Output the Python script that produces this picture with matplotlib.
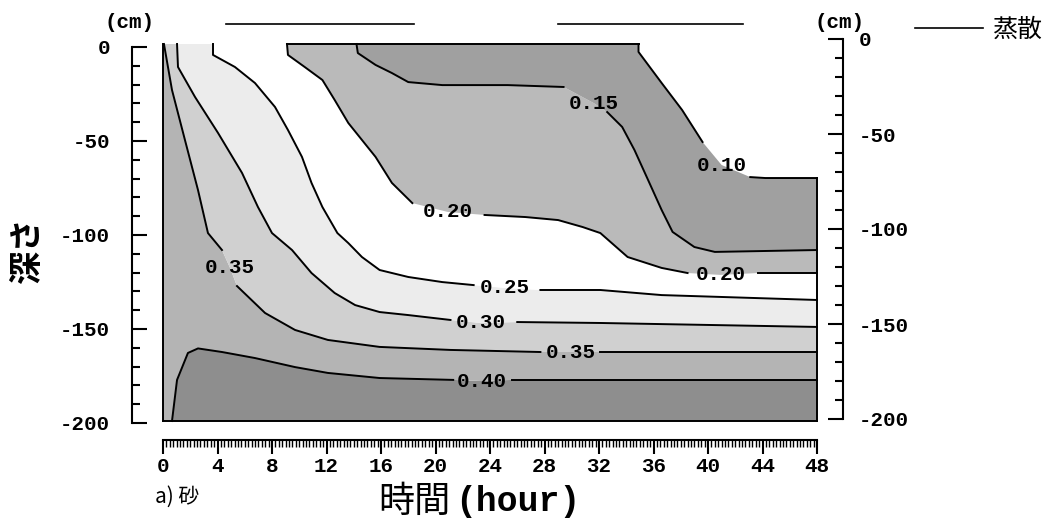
import matplotlib
matplotlib.use('Agg')
import matplotlib.pyplot as plt
from matplotlib.ticker import MultipleLocator
from matplotlib.font_manager import FontProperties

plt.rcParams['axes.unicode_minus'] = False

MONO = 'Liberation Mono'
CJK = 'Noto Sans CJK JP'

# contour lines: time (hour) / depth (cm)
# the point at each label index is where the label sits (line is broken there)
t_040 = [0.66, 1.03, 1.83, 2.57, 4.33, 6.75, 9.69, 12.1, 15.9, 21.3, 23.4, 25.6, 32.1, 48.0]
d_040 = [-200.0, -178.2, -163.9, -161.5, -163.4, -166.6, -171.4, -174.5, -177.2, -178.2, -178.8, -178.2, -178.2, -178.2]
lab_040 = [10]

t_035 = [0.07, 0.66, 1.61, 2.57, 3.30, 4.33, 4.92, 5.43, 7.49, 9.69, 12.1, 15.9, 21.1, 27.7, 29.9, 32.1, 48.0]
d_035 = [0.0, -24.4, -50.9, -77.5, -100.3, -109.3, -118.8, -128.4, -142.7, -151.7, -157.0, -160.7, -162.3, -163.4, -163.4, -163.4, -163.4]
lab_035 = [6, 14]

t_030 = [1.03, 1.10, 2.35, 4.04, 5.80, 6.97, 8.00, 9.47, 10.9, 12.6, 14.1, 15.9, 18.0, 21.1, 23.3, 26.0, 32.1, 48.0]
d_030 = [0.0, -12.2, -28.1, -47.2, -68.4, -86.5, -100.3, -109.3, -121.5, -132.1, -138.5, -142.2, -143.8, -146.4, -148.0, -147.5, -148.0, -150.1]
lab_030 = [14]

t_025 = [3.67, 3.67, 5.28, 6.75, 8.22, 9.17, 10.2, 10.9, 11.7, 12.8, 13.6, 14.6, 15.9, 18.0, 20.5, 22.8, 25.1, 27.7, 32.1, 36.6, 48.0]
d_025 = [0.0, -5.8, -12.2, -20.7, -33.4, -45.6, -59.9, -73.7, -86.5, -100.3, -105.6, -113.0, -119.9, -123.6, -126.3, -127.9, -129.4, -130.5, -130.5, -133.2, -135.8]
lab_025 = [16]

t_020 = [9.10, 9.17, 10.4, 11.7, 12.6, 13.6, 14.6, 15.6, 16.8, 18.3, 20.9, 23.6, 26.6, 29.0, 30.8, 32.1, 34.1, 36.6, 38.5, 40.9, 43.7, 48.0]
d_020 = [0.0, -5.8, -12.2, -19.1, -29.7, -41.9, -50.9, -59.9, -73.7, -84.4, -89.1, -90.7, -91.8, -93.4, -97.1, -100.3, -113.0, -118.8, -121.5, -122.5, -121.5, -121.5]
lab_020 = [10, 19]

t_015 = [14.2, 14.3, 15.6, 16.8, 18.0, 20.5, 25.3, 29.4, 31.6, 32.6, 33.7, 34.6, 35.6, 36.6, 37.4, 39.0, 40.5, 48.0]
d_015 = [0.0, -4.8, -11.1, -15.4, -20.2, -21.8, -21.8, -22.8, -31.3, -36.1, -44.0, -56.2, -72.1, -88.1, -99.7, -107.7, -110.3, -109.3]
lab_015 = [8]

t_010 = [34.9, 34.9, 36.6, 38.1, 39.6, 41.0, 43.1, 44.2, 48.0]
d_010 = [0.0, -4.2, -20.7, -35.0, -52.0, -64.2, -70.6, -71.1, -71.1]
lab_010 = [5]

levels = [0.40, 0.35, 0.30, 0.25, 0.20, 0.15, 0.10]
line_t = [t_040, t_035, t_030, t_025, t_020, t_015, t_010]
line_d = [d_040, d_035, d_030, d_025, d_020, d_015, d_010]
line_lab = [lab_040, lab_035, lab_030, lab_025, lab_020, lab_015, lab_010]

# fill shades (halftones of the scan) for >0.40, 0.35-0.40, ..., 0.10-0.15
shades = ['#8e8e8e', '#b4b4b4', '#d0d0d0', '#ececec', '#ffffff', '#bababa', '#a0a0a0']

# evaporation periods (top bars)
evap_start = [4.6, 29.0]
evap_end = [18.4, 42.6]

t_max = 48
d_min = -200

fig = plt.figure(figsize=(10.61, 5.25), dpi=100)
ax = fig.add_axes([163 / 1061, 1 - 421 / 525, 654 / 1061, 377 / 525])
ax.set_xlim(0, t_max)
ax.set_ylim(d_min, 0)

# filled bands
ax.fill(t_040 + [t_max], d_040 + [d_min], color=shades[0], lw=0)
ax.fill([0] + t_035 + t_040[::-1] + [0], [0] + d_035 + d_040[::-1] + [d_min], color=shades[1], lw=0)
for k in range(1, 6):
    ax.fill(line_t[k] + line_t[k + 1][::-1], line_d[k] + line_d[k + 1][::-1],
            color=shades[k + 1], lw=0)

# contour lines, broken at their labels
for lev, ts, ds, labs in zip(levels, line_t, line_d, line_lab):
    start = 0
    for i in labs + [len(ts)]:
        ax.plot(ts[start:i], ds[start:i], color='black', lw=1.4, clip_on=False)
        start = i + 1
    for i in labs:
        ax.text(ts[i], ds[i], f'{lev:.2f}', ha='center', va='center',
                fontsize=15, fontweight='bold', family=MONO)

# outline of the shaded area
ax.plot([0, 0], [0, d_min], color='black', lw=1.4, clip_on=False)
ax.plot([0, t_max], [d_min, d_min], color='black', lw=1.4, clip_on=False)
ax.plot([t_max, t_max], [d_010[-1], d_min], color='black', lw=1.4, clip_on=False)
ax.plot([t_020[0], t_010[0]], [0, 0], color='black', lw=1.4, clip_on=False)

# evaporation bars above the panel
evap_handle = None
for s, e in zip(evap_start, evap_end):
    evap_handle, = ax.plot([s, e], [10.6, 10.6], color='black', lw=1.2, clip_on=False)

for side in ['left', 'right', 'top']:
    ax.spines[side].set_visible(False)
ax.spines['bottom'].set_position(('outward', 13.7))
ax.spines['bottom'].set_linewidth(1.5)
ax.set_yticks([])
ax.xaxis.set_major_locator(MultipleLocator(4))
ax.xaxis.set_minor_locator(MultipleLocator(0.25))
ax.tick_params(axis='x', which='major', direction='out', length=10, width=1.5, pad=2)
ax.tick_params(axis='x', which='minor', direction='out', length=5, width=1.0)
for lab in ax.get_xticklabels():
    lab.set_fontsize(15)
    lab.set_fontweight('bold')
    lab.set_family(MONO)
ax.patch.set_visible(False)

# depth scales on both sides
def depth_scale(rect, side, pad):
    sax = fig.add_axes(rect)
    sax.set_ylim(d_min, 0)
    sax.patch.set_visible(False)
    for sp in ['left', 'right', 'top', 'bottom']:
        sax.spines[sp].set_visible(sp == side)
    sax.spines[side].set_linewidth(1.5)
    sax.set_xticks([])
    sax.yaxis.set_major_locator(MultipleLocator(50))
    sax.yaxis.set_minor_locator(MultipleLocator(10))
    sax.yaxis.set_ticks_position(side)
    sax.yaxis.set_label_position(side)
    sax.tick_params(axis='y', which='major', direction='in', length=11, width=1.5, pad=pad)
    sax.tick_params(axis='y', which='minor', direction='in', length=6, width=1.5)
    for lab in sax.get_yticklabels():
        lab.set_fontsize(15)
        lab.set_fontweight('bold')
        lab.set_family(MONO)
    return sax

depth_scale([132 / 1061, 1 - 423 / 525, 0.05, 376 / 525], 'left', 16)
depth_scale([843 / 1061 - 0.05, 1 - 419 / 525, 0.05, 380 / 525], 'right', 11)

fig.text(129 / 1061, 1 - 23 / 525, '(cm)', ha='center', va='center',
         fontsize=15, fontweight='bold', family=MONO)
fig.text(839 / 1061, 1 - 22 / 525, '(cm)', ha='center', va='center',
         fontsize=15, fontweight='bold', family=MONO)

fig.text(27 / 1061, 1 - 250 / 525, '深さ', rotation=90, ha='center', va='center',
         fontsize=24, fontweight='bold', family=CJK)
fig.text(450 / 1061, 1 - 502 / 525, '時間', ha='right', va='center',
         fontsize=26, family=CJK)
fig.text(455 / 1061, 1 - 502 / 525, '(hour)', ha='left', va='center',
         fontsize=25, fontweight='bold', family=MONO)
fig.text(155 / 1061, 1 - 497 / 525, 'a) 砂', ha='left', va='center',
         fontsize=15, family=CJK)

fig.legend(handles=[evap_handle], labels=['蒸散'], loc='center left',
           bbox_to_anchor=(915 / 1061, 1 - 30 / 525), frameon=False,
           borderpad=0, borderaxespad=0, handlelength=2.7, handletextpad=0.4,
           prop=FontProperties(family=CJK, size=18))

fig.savefig('out.png', dpi=100)
